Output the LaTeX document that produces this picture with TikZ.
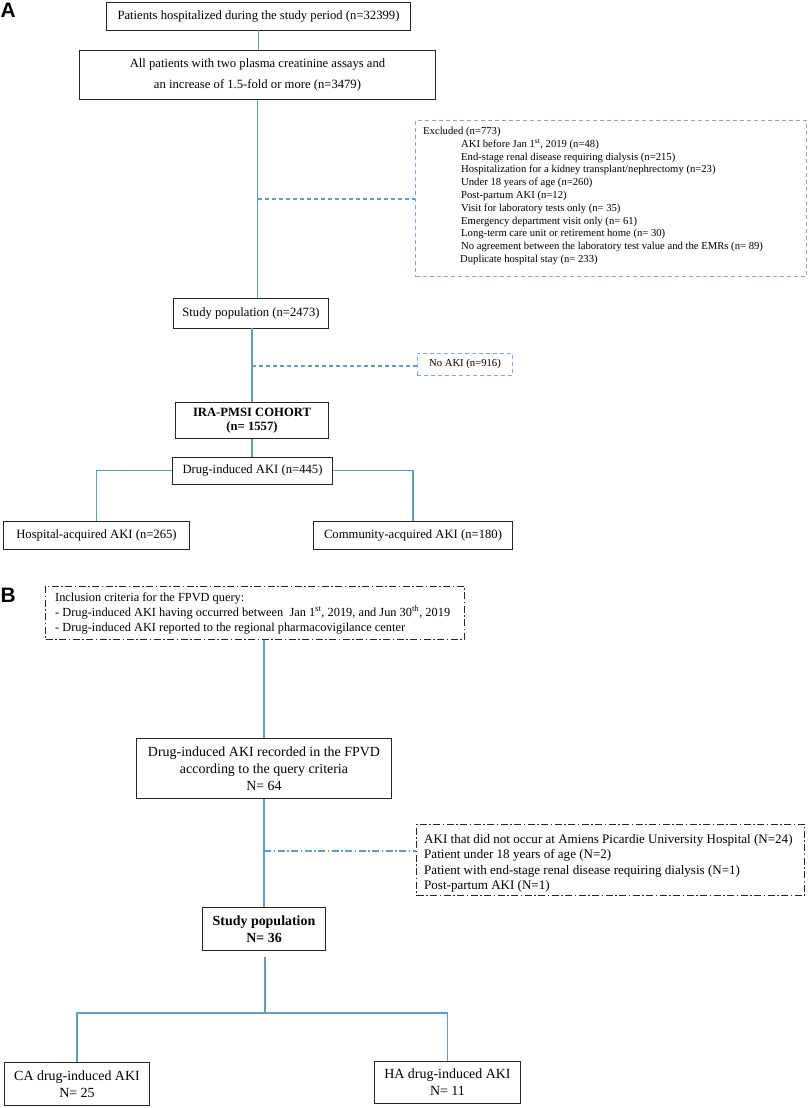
\documentclass[tikz,border=0pt]{standalone}
\usepackage{fontspec}
\setmainfont{Liberation Serif}
\newfontfamily\labfont{Liberation Sans}
\definecolor{cblue}{RGB}{91,155,213}
\definecolor{dblue}{RGB}{120,170,220}
\begin{document}
\begin{tikzpicture}[x=1bp,y=-1bp,
  box/.style={draw=black!85,line width=0.9bp,inner sep=0pt,align=center},
  dbox/.style={draw=dblue,line width=0.9bp,dash pattern=on 4bp off 3bp,inner sep=0pt},
  ddbox/.style={draw=black!85,line width=0.9bp,dash pattern=on 7bp off 2.5bp on 1.5bp off 2.5bp,inner sep=0pt},
  conn/.style={draw=cblue,line width=1.2bp},
  dconn/.style={draw=cblue,line width=1.2bp,dash pattern=on 4bp off 3bp},
  ddconn/.style={draw=cblue,line width=1.2bp,dash pattern=on 7bp off 2.5bp on 1.5bp off 2.5bp},
  fA/.style={font=\fontsize{12.7}{21}\selectfont},
  fAb/.style={font=\fontsize{12.7}{14}\selectfont\bfseries},
  fAs/.style={font=\fontsize{10.7}{12.8}\selectfont},
  fB/.style={font=\fontsize{14}{16.8}\selectfont},
  fBb/.style={font=\fontsize{14}{16.7}\selectfont\bfseries},
  fBi/.style={font=\fontsize{12.4}{15}\selectfont},
  fBe/.style={font=\fontsize{13.1}{15.3}\selectfont},
  txt/.style={inner sep=0pt,anchor=base west},
  lab/.style={inner sep=0pt,anchor=north west,font=\fontsize{21}{21}\labfont\bfseries}
]
\useasboundingbox (0,0) rectangle (809,1108);

% ---------- A ----------
\node[lab] (labA) at (0.5,2.5) {A};
\node[box,fA,minimum width=305,minimum height=28] (b1) at (258.5,16) {Patients hospitalized during the study period (n=32399)};
\node[box,fA,minimum width=357,minimum height=50] (b2) at (257.5,75) {All patients with two plasma creatinine assays and\\an increase of 1.5-fold or more (n=3479)};
\node[dbox,minimum width=392,minimum height=157] (exA) at (611,198.5) {};
\node[txt,fAs] (exA0) at (423,134.5) {Excluded (n=773)};
\node[txt,fAs] (exA1) at (461,147.3) {AKI before Jan 1\textsuperscript{st}, 2019 (n=48)};
\node[txt,fAs] (exA2) at (461,160.1) {End-stage renal disease requiring dialysis (n=215)};
\node[txt,fAs] (exA3) at (461,172.9) {Hospitalization for a kidney transplant/nephrectomy (n=23)};
\node[txt,fAs] (exA4) at (461,185.7) {Under 18 years of age (n=260)};
\node[txt,fAs] (exA5) at (461,198.5) {Post-partum AKI (n=12)};
\node[txt,fAs] (exA6) at (461,211.3) {Visit for laboratory tests only (n= 35)};
\node[txt,fAs] (exA7) at (461,224.1) {Emergency department visit only (n= 61)};
\node[txt,fAs] (exA8) at (461,236.9) {Long-term care unit or retirement home (n= 30)};
\node[txt,fAs] (exA9) at (461,249.7) {No agreement between the laboratory test value and the EMRs (n= 89)};
\node[txt,fAs] (exA10) at (460,262.5) {Duplicate hospital stay (n= 233)};
\node[box,fA,minimum width=156,minimum height=30] (study) at (251,313) {Study population (n=2473)};
\node[dbox,fAs,minimum width=96,minimum height=22] (noaki) at (465,364) {No AKI (n=916)};
\node[box,fAb,minimum width=154,minimum height=37] (ira) at (252,420.5) {IRA-PMSI COHORT\\(n= 1557)};
\node[box,fA,minimum width=161,minimum height=27] (drug) at (252.5,470.5) {Drug-induced AKI (n=445)};
\node[box,fA,minimum width=187,minimum height=28] (hosp) at (96.5,535) {Hospital-acquired AKI (n=265)};
\node[box,fA,minimum width=200,minimum height=28] (comm) at (413,535) {Community-acquired AKI (n=180)};

\coordinate (jA1) at (257.5,199);
\coordinate (jA2) at (252,366);
\draw[conn] (b1.south) -- (b1.south |- b2.north);
\draw[conn] (b2.south) -- (b2.south |- study.north);
\draw[dconn] (jA1) -- (exA.west |- jA1);
\draw[conn] (jA2 |- study.south) -- (jA2 |- ira.north);
\draw[dconn] (jA2) -- (noaki.west |- jA2);
\draw[conn] (jA2 |- ira.south) -- (jA2 |- drug.north);
\draw[conn] (drug.west) -| (hosp.north);
\draw[conn] (drug.east) -| (comm.north);

% ---------- B ----------
\node[lab] (labB) at (0.5,588) {B};
\node[ddbox,minimum width=420,minimum height=54] (incl) at (255,613) {};
\node[txt,fBi] (in0) at (55,601) {Inclusion criteria for the FPVD query:};
\node[txt,fBi] (in1) at (55,616) {- Drug-induced AKI having occurred between\ \ Jan 1\textsuperscript{st}, 2019, and Jun 30\textsuperscript{th}, 2019};
\node[txt,fBi] (in2) at (55,631) {- Drug-induced AKI reported to the regional pharmacovigilance center};
\node[box,fB,minimum width=256,minimum height=61] (fpvd) at (264,768.5) {Drug-induced AKI recorded in the FPVD\\according to the query criteria\\N= 64};
\node[ddbox,minimum width=389,minimum height=72] (exB) at (610.5,860) {};
\node[txt,fBe] (exB1) at (424,843.5) {AKI that did not occur at Amiens Picardie University Hospital (N=24)};
\node[txt,fBe] (exB2) at (424,858.8) {Patient under 18 years of age (N=2)};
\node[txt,fBe] (exB3) at (424,874.1) {Patient with end-stage renal disease requiring dialysis (N=1)};
\node[txt,fBe] (exB4) at (424,889.4) {Post-partum AKI (N=1)};
\node[box,fBb,minimum width=124,minimum height=44] (studyB) at (264,929) {Study population\\N= 36};
\node[box,fB,minimum width=145,minimum height=44] (ca) at (77,1084) {CA drug-induced AKI\\N= 25};
\node[box,fB,minimum width=147,minimum height=43] (ha) at (447.5,1082.5) {HA drug-induced AKI\\N= 11};

\coordinate (jB1) at (264,851);
\coordinate (jB2) at (265,957);
\coordinate (jB3) at (265,1013);
\draw[conn] (incl.south -| jB1) -- (fpvd.north -| jB1);
\draw[conn] (fpvd.south -| jB1) -- (studyB.north -| jB1);
\draw[ddconn] (jB1) -- (exB.west |- jB1);
\draw[conn] (jB2) -- (jB3);
\draw[conn] (ca.north) |- (jB3) -| (ha.north);
\end{tikzpicture}
\end{document}
